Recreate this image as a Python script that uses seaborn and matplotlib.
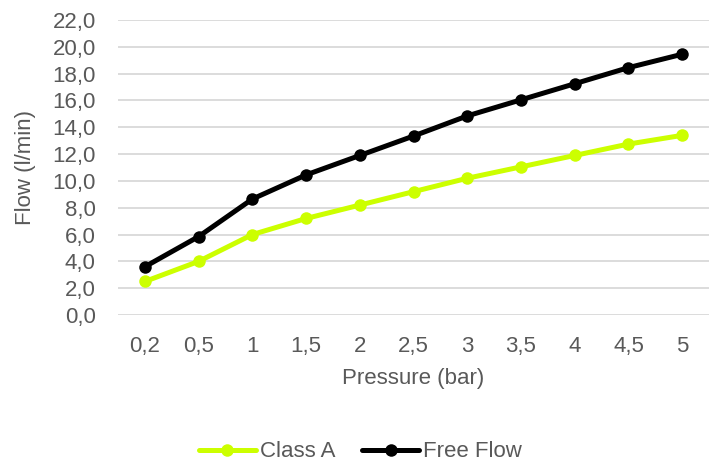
import pandas as pd
import matplotlib
matplotlib.use("Agg")
import matplotlib.pyplot as plt
import seaborn as sns
from matplotlib.ticker import FuncFormatter

pressure = ["0,2", "0,5", "1", "1,5", "2", "2,5", "3", "3,5", "4", "4,5", "5"]
class_a = [2.5, 4.0, 6.0, 7.2, 8.2, 9.2, 10.2, 11.05, 11.9, 12.75, 13.4]
free_flow = [3.6, 5.85, 8.65, 10.45, 11.9, 13.35, 14.85, 16.05, 17.25, 18.45, 19.45]

df = pd.DataFrame({
    "Pressure": pressure * 2,
    "Flow": class_a + free_flow,
    "Series": ["Class A"] * len(pressure) + ["Free Flow"] * len(pressure),
})

sns.set_style("white")
plt.rcParams["font.family"] = ["Liberation Sans", "DejaVu Sans"]
text_color = "#595959"
fs = 16

fig = plt.figure(figsize=(7.13, 4.66), dpi=100)
ax = fig.add_axes([0.1655, 0.324, 0.829, 0.633])

sns.lineplot(data=df, x="Pressure", y="Flow", hue="Series",
             palette={"Class A": "#ccff00", "Free Flow": "#000000"},
             linewidth=3.6, marker="o", markersize=9, markeredgewidth=0,
             sort=False, ax=ax)

ax.set_xlim(-0.5, len(pressure) - 0.5)
ax.set_ylim(0, 22)
ax.set_yticks(range(0, 23, 2))
ax.yaxis.set_major_formatter(FuncFormatter(lambda v, p: f"{v:.1f}".replace(".", ",")))
ax.grid(axis="y", color="#d9d9d9", linewidth=1.3)
ax.set_axisbelow(True)
for s in ax.spines.values():
    s.set_visible(False)
ax.tick_params(axis="both", length=0, labelsize=fs, colors=text_color)
ax.tick_params(axis="x", pad=15)
ax.tick_params(axis="y", pad=16)
ax.set_xlabel("Pressure (bar)", fontsize=fs, color=text_color)
ax.set_ylabel("Flow (l/min)", fontsize=fs, color=text_color)
ax.xaxis.set_label_coords(0.5, -0.18)
ax.yaxis.set_label_coords(-0.139, 0.5)

ax.legend(loc="center", bbox_to_anchor=(0.41, -0.464), ncol=2, frameon=False,
          fontsize=fs, labelcolor=text_color, handlelength=2.57, handletextpad=0.18,
          columnspacing=1.2)

fig.savefig("out.png", dpi=100)
